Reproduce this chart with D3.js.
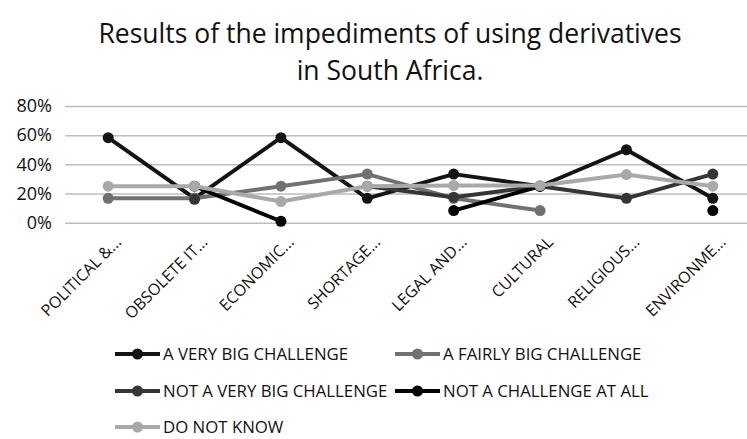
<!DOCTYPE html>
<html>
<head>
<meta charset="utf-8">
<script src="https://cdn.jsdelivr.net/npm/d3@7"></script>
<style>
  body { margin: 0; background: #fff; }
  svg { display: block; font-family: "Open Sans", sans-serif; }
</style>
</head>
<body>
<svg id="chart"></svg>
<script>
// categories and series values (share of respondents)
var categories = ["POLITICAL &...", "OBSOLETE IT...", "ECONOMIC...", "SHORTAGE...",
    "LEGAL AND...", "CULTURAL", "RELIGIOUS...", "ENVIRONME..."];
var seriesNames = ["A VERY BIG CHALLENGE", "A FAIRLY BIG CHALLENGE", "NOT A VERY BIG CHALLENGE",
    "NOT A CHALLENGE AT ALL", "DO NOT KNOW"];
var veryBig = [0.583, 0.167, 0.583, 0.167, 0.333, 0.25, 0.5, 0.167];
var fairlyBig = [0.167, 0.167, 0.25, 0.333, 0.167, 0.083, null, null];
var notVeryBig = [null, 0.16, null, 0.25, 0.175, 0.25, 0.167, 0.333];
var notAtAll = [null, 0.25, 0.01, null, 0.083, 0.25, null, 0.083];
var doNotKnow = [0.25, 0.25, 0.145, 0.25, 0.255, 0.255, 0.33, 0.25];
var yTicks = [0, 0.2, 0.4, 0.6, 0.8];

var width = 747, height = 439;
var colors = ["#141414", "#717171", "#363636", "#000000", "#a9a9a9"];
var allSeries = [veryBig, fairlyBig, notVeryBig, notAtAll, doNotKnow];

var svg = d3.select("#chart")
    .attr("width", width)
    .attr("height", height);

// title
svg.append("text")
    .attr("x", 390).attr("y", 43)
    .attr("text-anchor", "middle")
    .style("font-size", "26.5px")
    .attr("fill", "#111")
    .text("Results of the impediments of using derivatives");
svg.append("text")
    .attr("x", 390).attr("y", 80)
    .attr("text-anchor", "middle")
    .style("font-size", "26.5px")
    .attr("fill", "#111")
    .text("in South Africa.");

var x = d3.scaleBand()
    .domain(categories)
    .range([65, 756])
    .paddingInner(0)

var y = d3.scaleLinear()
    .domain([0, 0.8])
    .range([222.7, 106])

// gridlines + y labels
var yAxis = g => g
    .attr("transform", "translate(65,0)")
    .call(d3.axisLeft(y).tickValues(yTicks).tickFormat(d3.format(".0%")).tickSize(-(756 - 65)).tickPadding(13))
    .call(g => g.select(".domain").remove())
    .call(g => g.selectAll(".tick line").attr("stroke", "#bdbdbd").attr("stroke-width", 1.5))
    .call(g => g.selectAll(".tick text")
        .attr("fill", "#111")
        .style("font-size", "18px")
        .style("font-family", "Open Sans, sans-serif"));

svg.append("g").call(yAxis);

// category labels
svg.append("g")
    .selectAll("text")
    .data(categories)
    .join("text")
    .attr("transform", d => "translate(" + (x(d) + x.bandwidth() / 2 + 14) + ",243) rotate(-45)")
    .attr("text-anchor", "end")
    .attr("fill", "#111")
    .style("font-size", "16px")
    .text(d => d);

var line = d3.line()
    .defined(d => d != null)
    .x((d, i) => x(categories[i]) + x.bandwidth() / 2)
    .y(d => y(d));

allSeries.forEach(function (vals, k) {
    var g = svg.append("g");
    g.append("path")
        .datum(vals)
        .attr("d", line)
        .attr("fill", "none")
        .attr("stroke", colors[k])
        .attr("stroke-width", 4)
        .attr("stroke-linejoin", "round");
    g.selectAll("circle")
        .data(vals.map((v, i) => ({ v: v, i: i })).filter(d => d.v != null))
        .join("circle")
        .attr("cx", d => x(categories[d.i]) + x.bandwidth() / 2)
        .attr("cy", d => y(d.v))
        .attr("r", 5.5)
        .attr("fill", colors[k]);
});

// legend
var legendPos = [[115, 354], [395, 354], [115, 391], [395, 391], [115, 427]];
var legend = svg.append("g")
    .selectAll("g")
    .data(seriesNames)
    .join("g")
    .attr("transform", (d, i) => "translate(" + legendPos[i][0] + "," + legendPos[i][1] + ")");

legend.append("line")
    .attr("x1", 0).attr("x2", 45)
    .attr("stroke", (d, i) => colors[i])
    .attr("stroke-width", 4);
legend.append("circle")
    .attr("cx", 22.5).attr("r", 5.5)
    .attr("fill", (d, i) => colors[i]);
legend.append("text")
    .attr("x", 48).attr("dy", "0.35em")
    .attr("fill", "#111")
    .style("font-size", "16.8px")
    .text(d => d);
</script>
</body>
</html>
